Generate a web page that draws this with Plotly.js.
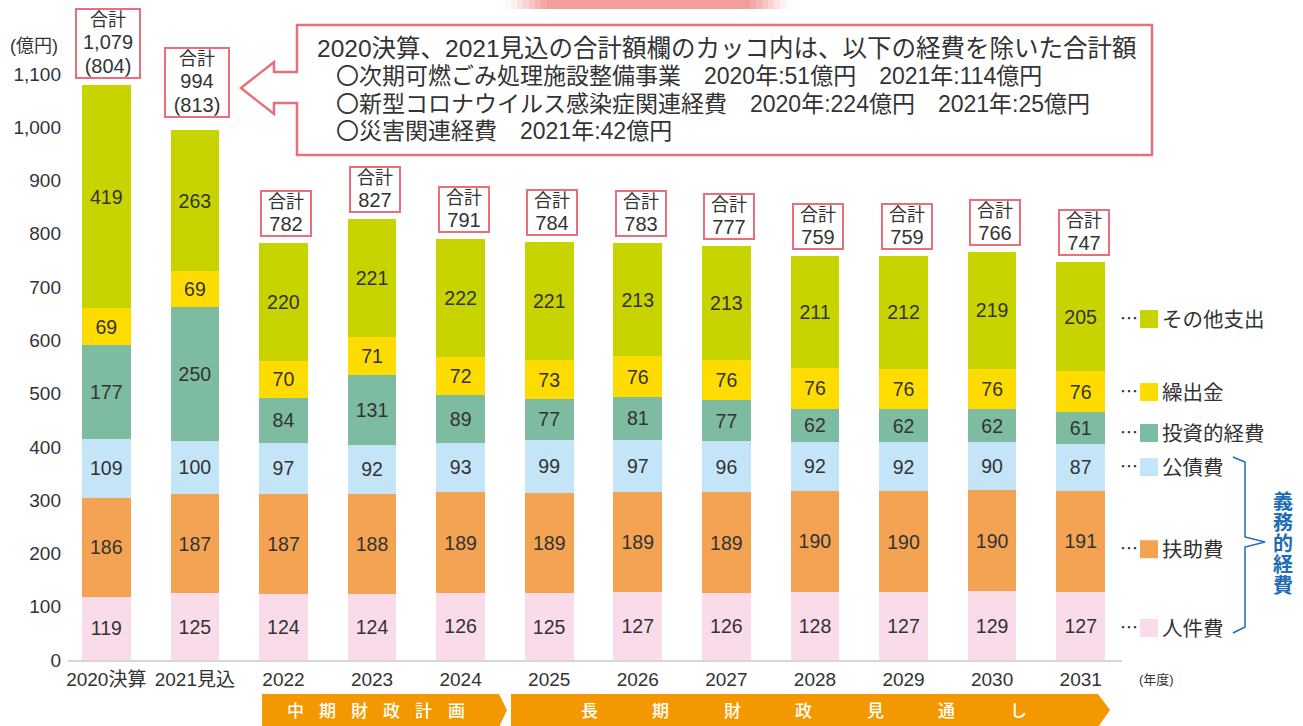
<!DOCTYPE html>
<html>
<head>
<meta charset="utf-8">
<script src="https://cdn.plot.ly/plotly-3.0.1.min.js"></script>
<style>
  html, body { margin: 0; padding: 0; background: #ffffff; }
  #chart { width: 1303px; height: 726px; }
</style>
</head>
<body>
<div id="chart"></div>
<script>
// ---------- data ----------
const categories = ['2020決算', '2021見込', '2022', '2023', '2024', '2025', '2026', '2027', '2028', '2029', '2030', '2031'];
const jinkenhi   = [119, 125, 124, 124, 126, 125, 127, 126, 128, 127, 129, 127]; // 人件費
const fujohi     = [186, 187, 187, 188, 189, 189, 189, 189, 190, 190, 190, 191]; // 扶助費
const kosaihi    = [109, 100, 97, 92, 93, 99, 97, 96, 92, 92, 90, 87];          // 公債費
const toshiteki  = [177, 250, 84, 131, 89, 77, 81, 77, 62, 62, 62, 61];         // 投資的経費
const kuridashi  = [69, 69, 70, 71, 72, 73, 76, 76, 76, 76, 76, 76];            // 繰出金
const sonota     = [419, 263, 220, 221, 222, 221, 213, 213, 211, 212, 219, 205]; // その他支出
const totals     = [1079, 994, 782, 827, 791, 784, 783, 777, 759, 759, 766, 747];
const totalsExcl = [804, 813];
const seriesNames = ['人件費', '扶助費', '公債費', '投資的経費', '繰出金', 'その他支出'];
const yTicks = [0, 100, 200, 300, 400, 500, 600, 700, 800, 900, 1000, 1100];

// ---------- style ----------
const colors = ['#f9dbe9', '#f3a352', '#c4e5f7', '#7dbca0', '#ffdc00', '#c8d400'];
const FONT = "'Liberation Sans', 'Noto Sans CJK JP', sans-serif";
const TXT = '#333333';
const PINK = '#eb6f7b';
const BLUE = '#1e6db5';
const ORANGE = '#f39800';

const L = 62, R = 1125, T = 74, B = 660;
const W = R - L, H = B - T;
const px = x => (x - L) / W;
const py = y => (B - y) / H;
const dy = v => B - v * H / 1100; // data value -> pixel y

const seriesValues = [jinkenhi, fujohi, kosaihi, toshiteki, kuridashi, sonota];

const traces = seriesValues.map((vals, i) => ({
  type: 'bar',
  name: seriesNames[i],
  x: categories,
  y: vals,
  text: vals.map(String),
  textposition: 'inside',
  insidetextanchor: 'middle',
  textangle: 0,
  constraintext: 'none',
  insidetextfont: { family: FONT, size: 19.5, color: TXT },
  marker: { color: colors[i], line: { width: 0 } },
  hoverinfo: 'skip',
  showlegend: false
}));

const annotations = [];
const shapes = [];

// totals boxes
totals.forEach((t, i) => {
  let txt = '合計<br><span style="font-size:20px">' + t.toLocaleString('en-US') + '</span>';
  if (i < totalsExcl.length) txt += '<br><span style="font-size:20px">(' + totalsExcl[i] + ')</span>';
  annotations.push({
    x: i, xref: 'x', y: t, yref: 'y',
    yanchor: 'bottom', xanchor: 'center', xshift: i < 2 ? 2 : 3,
    yshift: i === 1 ? 12 : 6,
    text: txt, showarrow: false,
    font: { family: FONT, size: 18, color: TXT },
    bgcolor: '#ffffff', bordercolor: PINK, borderwidth: 2, borderpad: 0,
    width: i < 2 ? 62 : 48
  });
});

// unit label
annotations.push({ xref: 'paper', yref: 'paper', x: px(8), y: py(46), xanchor: 'left', yanchor: 'middle',
  text: '(億円)', showarrow: false, font: { family: FONT, size: 18, color: TXT } });
annotations.push({ xref: 'paper', yref: 'paper', x: px(1137), y: py(679), xanchor: 'left', yanchor: 'middle',
  text: '(年度)', showarrow: false, font: { family: FONT, size: 13, color: TXT } });

// callout box with arrow
const cp = [[297,25],[1152,25],[1152,155],[297,155],[297,103],[274,103],[274,114],[241,88],[274,62],[274,72],[297,72]];
shapes.push({ type: 'path', xref: 'paper', yref: 'paper',
  path: 'M ' + cp.map(p => px(p[0]) + ',' + py(p[1])).join(' L ') + ' Z',
  line: { color: PINK, width: 2.5 }, fillcolor: '#ffffff' });
annotations.push({ xref: 'paper', yref: 'paper', x: px(315), y: py(48), xanchor: 'left', yanchor: 'middle',
  text: '2020決算、2021見込の合計額欄のカッコ内は、以下の経費を除いた合計額', showarrow: false,
  font: { family: FONT, size: 24.5, color: TXT } });
const noteLines = [
  '〇次期可燃ごみ処理施設整備事業　2020年:51億円　2021年:114億円',
  '〇新型コロナウイルス感染症関連経費　2020年:224億円　2021年:25億円',
  '〇災害関連経費　2021年:42億円'
];
noteLines.forEach((t, i) => {
  annotations.push({ xref: 'paper', yref: 'paper', x: px(334), y: py(76 + i * 27.5), xanchor: 'left', yanchor: 'middle',
    text: t, showarrow: false, font: { family: FONT, size: 23, color: TXT } });
});

// right-side legend
const legendY = [60, 208, 362, 426, 503, 640];
seriesNames.forEach((n, i) => {
  const yy = dy(legendY[i]);
  annotations.push({ xref: 'paper', yref: 'paper', x: px(1118), y: py(yy), xanchor: 'left', yanchor: 'middle',
    text: '⋯', showarrow: false, font: { family: FONT, size: 18, color: TXT } });
  shapes.push({ type: 'rect', xref: 'paper', yref: 'paper', x0: px(1140), x1: px(1158), y0: py(yy + 9), y1: py(yy - 9),
    fillcolor: colors[i], line: { width: 0 } });
  annotations.push({ xref: 'paper', yref: 'paper', x: px(1160), y: py(yy), xanchor: 'left', yanchor: 'middle',
    text: n, showarrow: false, font: { family: FONT, size: 20.5, color: TXT } });
});

// bracket 義務的経費
const bp = [[1233,457],[1245,462],[1245,537],[1265,542],[1245,547],[1245,627],[1233,633]];
shapes.push({ type: 'path', xref: 'paper', yref: 'paper',
  path: 'M ' + bp.map(p => px(p[0]) + ',' + py(p[1])).join(' L '),
  line: { color: BLUE, width: 1.5 } });
'義務的経費'.split('').forEach((c, i) => {
  annotations.push({ xref: 'paper', yref: 'paper', x: px(1283), y: py(502 + i * 21), xanchor: 'center', yanchor: 'middle',
    text: '<b>' + c + '</b>', showarrow: false, font: { family: FONT, size: 20, color: BLUE } });
});

// x-axis base line
shapes.push({ type: 'line', xref: 'paper', yref: 'paper', x0: px(68), x1: px(1122), y0: py(661), y1: py(661),
  line: { color: '#d6d6d6', width: 2 } });

// bottom banners
const b1 = [[262,694],[499,694],[507,710],[499,727],[262,727]];
const b2 = [[511,694],[1098,694],[1110,710],[1098,727],[511,727]];
[b1, b2].forEach(b => shapes.push({ type: 'path', xref: 'paper', yref: 'paper',
  path: 'M ' + b.map(p => px(p[0]) + ',' + py(p[1])).join(' L ') + ' Z',
  fillcolor: ORANGE, line: { width: 0 } }));
'中期財政計画'.split('').forEach((c, i) => {
  annotations.push({ xref: 'paper', yref: 'paper', x: px(295 + i * 32.2), y: py(711), xanchor: 'center', yanchor: 'middle',
    text: c, showarrow: false, font: { family: FONT, size: 17, color: '#ffffff', weight: 500 } });
});
'長期財政見通し'.split('').forEach((c, i) => {
  annotations.push({ xref: 'paper', yref: 'paper', x: px(589 + i * 71.5), y: py(711), xanchor: 'center', yanchor: 'middle',
    text: c, showarrow: false, font: { family: FONT, size: 17, color: '#ffffff', weight: 500 } });
});

// top (cut-off) pink title band
const bandSteps = 8;
for (let k = 0; k < bandSteps; k++) {
  const op = (k + 1) / bandSteps;
  const inset = k * 6;
  shapes.push({ type: 'rect', xref: 'paper', yref: 'paper', x0: px(505 + inset), x1: px(792 - inset),
    y0: py(9), y1: py(-2), fillcolor: '#f28d8d', opacity: op * 0.35, line: { width: 0 } });
}

const layout = {
  width: 1303, height: 726,
  margin: { l: L, r: 1303 - R, t: T, b: 726 - B, pad: 0 },
  paper_bgcolor: '#ffffff', plot_bgcolor: '#ffffff',
  barmode: 'stack', bargap: 0.45,
  showlegend: false,
  font: { family: FONT, color: TXT },
  xaxis: {
    type: 'category', range: [-0.5, 11.5], showgrid: false, zeroline: false, showline: false,
    ticks: '', ticklabelstandoff: 6, tickfont: { family: FONT, size: 19, color: TXT }, fixedrange: true
  },
  yaxis: {
    range: [0, 1100], tickvals: yTicks, tickformat: ',d', showgrid: false, zeroline: false, showline: false,
    ticks: '', tickfont: { family: FONT, size: 19, color: TXT }, fixedrange: true
  },
  shapes: shapes,
  annotations: annotations
};

Plotly.newPlot('chart', traces, layout, { staticPlot: true, displayModeBar: false });
</script>
</body>
</html>
